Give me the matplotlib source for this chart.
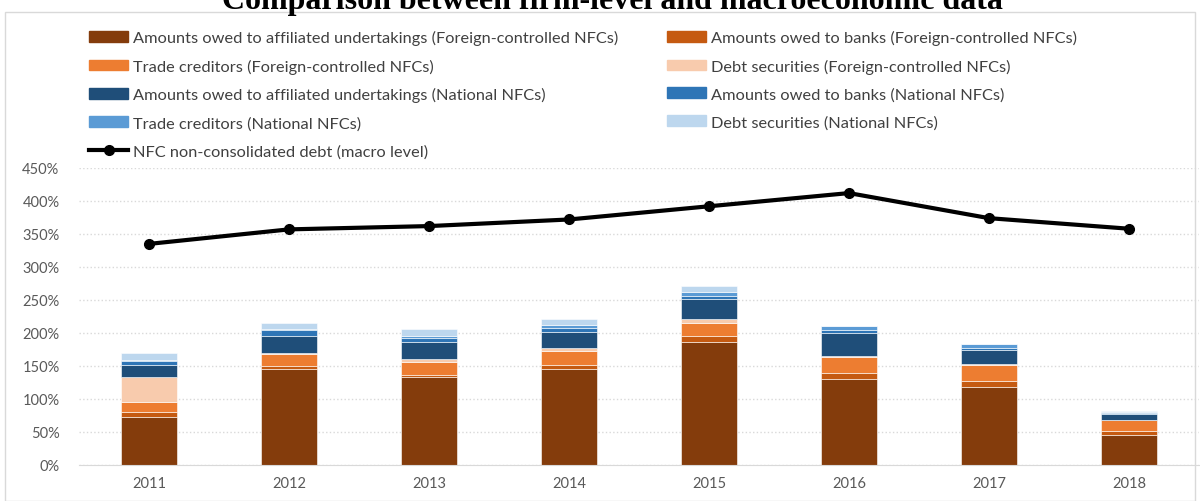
import matplotlib.pyplot as plt
import matplotlib.patches as mpatches
from matplotlib.lines import Line2D
from matplotlib.ticker import FuncFormatter
import numpy as np

plt.rcParams['font.family'] = ['Lato', 'DejaVu Sans']

years = ['2011', '2012', '2013', '2014', '2015', '2016', '2017', '2018']

# stacked components, %
fc_affiliated = [72, 145, 133, 145, 187, 131, 117.7, 45]
fc_banks = [9, 4.5, 4, 6, 8, 9, 9.1, 7]
fc_trade = [14, 18.5, 18.5, 21, 19.6, 23.6, 25.2, 15.7]
fc_debt = [38, 1, 5, 5, 7, 1.4, 0.3, 0.3]
nat_affiliated = [18, 27, 25.4, 24.5, 29.3, 35, 21.7, 9]
nat_banks = [7, 8.5, 6, 6.5, 4.6, 4, 3, 2]
nat_trade = [1, 1, 4, 4.6, 7, 6, 6, 2]
nat_debt = [11, 9.5, 10, 9, 9.4, 1, 1, 1]

macro_debt = [335, 357, 362, 372, 392, 412, 374, 358]

series = [
    (fc_affiliated, '#843C0C', 'Amounts owed to affiliated undertakings (Foreign-controlled NFCs)'),
    (fc_banks, '#C55A11', 'Amounts owed to banks (Foreign-controlled NFCs)'),
    (fc_trade, '#ED7D31', 'Trade creditors (Foreign-controlled NFCs)'),
    (fc_debt, '#F8CBAD', 'Debt securities (Foreign-controlled NFCs)'),
    (nat_affiliated, '#1F4E79', 'Amounts owed to affiliated undertakings (National NFCs)'),
    (nat_banks, '#2E75B6', 'Amounts owed to banks (National NFCs)'),
    (nat_trade, '#5B9BD5', 'Trade creditors (National NFCs)'),
    (nat_debt, '#BDD7EE', 'Debt securities (National NFCs)'),
]
line_label = 'NFC non-consolidated debt (macro level)'

fig = plt.figure(figsize=(12, 5.02), dpi=100)
ax = fig.add_axes([79 / 1200, 36 / 502, 1120 / 1200, 297 / 502])

x = np.arange(len(years))
bottom = np.zeros(len(years))
handles = []
for vals, col, lab in series:
    ax.bar(x, vals, 0.4, bottom=bottom, color=col, edgecolor='white', linewidth=0.4, zorder=2)
    bottom += np.array(vals)
    handles.append(mpatches.Patch(color=col, label=lab))

ax.plot(x, macro_debt, color='black', lw=3, marker='o', ms=7, zorder=3)
line_handle = Line2D([], [], color='black', lw=3, marker='o', ms=7, label=line_label)

ax.set_xlim(-0.5, 7.5)
ax.set_ylim(0, 450)
ax.set_yticks(range(0, 451, 50))
ax.yaxis.set_major_formatter(FuncFormatter(lambda v, p: f'{v:.0f}%'))
ax.set_xticks(x)
ax.set_xticklabels(years)
ax.tick_params(length=0, labelsize=10.5, colors='#595959')
ax.tick_params(axis='y', pad=14)
ax.tick_params(axis='x', pad=8)
ax.grid(axis='y', color='#D9D9D9', linestyle=':', linewidth=1, zorder=0)
for s in ['top', 'right', 'left']:
    ax.spines[s].set_visible(False)
ax.spines['bottom'].set_color('#D9D9D9')

col1 = [handles[0], handles[2], handles[4], handles[6], line_handle]
col2 = [handles[1], handles[3], handles[5], handles[7]]
leg_kw = dict(frameon=False, fontsize=11.8, handlelength=2.4, handleheight=0.65,
              handletextpad=0.3, labelspacing=0.83, borderaxespad=0, borderpad=0)
for h, xpos in [(col1, 89), (col2, 667)]:
    lg = fig.legend(handles=h, loc='upper left', bbox_to_anchor=(xpos / 1200, 1 - 31 / 502), **leg_kw)
    for t in lg.get_texts():
        t.set_color('#404040')

fig.text(612 / 1200, 1 - 9 / 502, 'Comparison between firm-level and macroeconomic data',
         ha='center', va='baseline', fontsize=23, fontweight='bold', family='Liberation Serif')

fig.patches.append(mpatches.Rectangle((5 / 1200, 0), 1190 / 1200, 1 - 13 / 502, transform=fig.transFigure,
                                      fill=False, edgecolor='#D9D9D9', linewidth=1))

fig.savefig('out.png', dpi=100)
